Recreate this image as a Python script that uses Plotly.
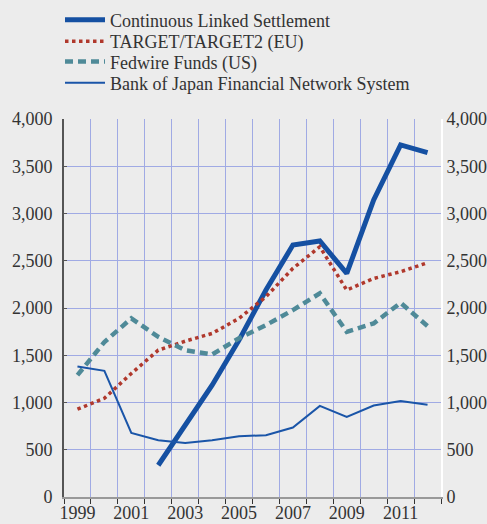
import plotly.graph_objects as go

years = list(range(1999, 2013))
cls_vals = [None, None, None, 336, 760, 1183, 1660, 2190, 2666, 2709, 2366, 3143, 3726, 3644]
target_vals = [929, 1045, 1307, 1554, 1649, 1731, 1890, 2120, 2419, 2648, 2190, 2313, 2384, 2479]
fedwire_vals = [1289, 1640, 1890, 1695, 1554, 1508, 1680, 1819, 1978, 2155, 1748, 1837, 2055, 1808]
boj_vals = [1382, 1335, 678, 600, 572, 600, 643, 654, 735, 964, 847, 968, 1017, 975]
series_names = ["Continuous Linked Settlement", "TARGET/TARGET2 (EU)",
                "Fedwire Funds (US)", "Bank of Japan Financial Network System"]
year_labels = ["1999", "2001", "2003", "2005", "2007", "2009", "2011"]
y_ticks = [0, 500, 1000, 1500, 2000, 2500, 3000, 3500, 4000]

FF = "Liberation Serif"
FS = 18
bg = "#ECECEC"
grid = "#A0AAE4"
txt = "#333333"

styles = [
    dict(color="#1550A2", width=5),
    dict(color="#B0382C", width=3.5, dash="dot"),
    dict(color="#4F8A98", width=4.5, dash="8px,5px"),
    dict(color="#1A55A8", width=2),
]
values = [cls_vals, target_vals, fedwire_vals, boj_vals]
legend_ids = ["legend", "legend2", "legend3", "legend4"]

fig = go.Figure()
for name, vals, st, lg in zip(series_names, values, styles, legend_ids):
    fig.add_trace(go.Scatter(x=years, y=vals, mode="lines", name=name, line=st, legend=lg))

# invisible traces to activate the right axis and the year-label axis
fig.add_trace(go.Scatter(x=years, y=boj_vals, yaxis="y2", mode="lines", showlegend=False,
                         line=dict(color="rgba(0,0,0,0)"), hoverinfo="skip"))
fig.add_trace(go.Scatter(x=years, y=boj_vals, xaxis="x2", mode="lines", showlegend=False,
                         line=dict(color="rgba(0,0,0,0)"), hoverinfo="skip"))

boundaries = [y - 0.5 for y in years] + [years[-1] + 0.5]
tfont = dict(family=FF, size=FS, color=txt)

row_y = [1.262, 1.205, 1.151, 1.095]
legend_common = dict(x=-0.0106, xanchor="left", yanchor="middle", bgcolor="rgba(0,0,0,0)",
                     font=tfont, itemwidth=40)
legend_layout = {lg: dict(legend_common, y=ry) for lg, ry in zip(legend_ids, row_y)}

fig.update_layout(
    width=487, height=524,
    paper_bgcolor=bg, plot_bgcolor=bg,
    margin=dict(l=64, r=46, t=119, b=27, autoexpand=False),
    font=dict(family=FF, size=FS, color=txt),
    showlegend=True,
    **legend_layout,
    xaxis=dict(range=[1998.5, 2012.5], tickmode="array", tickvals=boundaries,
               ticktext=[""] * len(boundaries), showgrid=True, gridcolor=grid, gridwidth=1,
               ticks="outside", ticklen=5, tickcolor="#333333", showline=True,
               linecolor="#999999", linewidth=2, zeroline=False, automargin=False),
    xaxis2=dict(range=[1998.5, 2012.5], overlaying="x", side="bottom", tickmode="array",
                tickvals=[int(v) for v in year_labels], ticktext=year_labels, showgrid=False,
                ticks="", showline=False, zeroline=False, tickfont=tfont,
                ticklabelstandoff=3, automargin=False),
    yaxis=dict(range=[0, 4000], tickmode="array", tickvals=y_ticks,
               ticktext=[f"{v:,}" for v in y_ticks], showgrid=True, gridcolor=grid, gridwidth=1,
               showline=True, linecolor="#555555", linewidth=2, zeroline=False,
               ticks="inside", ticklen=3, tickcolor="#555555", tickfont=tfont,
               ticklabelstandoff=6, automargin=False),
    yaxis2=dict(range=[0, 4000], overlaying="y", side="right", tickmode="array", tickvals=y_ticks,
                ticktext=[f"{v:,}" for v in y_ticks], showgrid=False, showline=True,
                linecolor="#FFFFFF", linewidth=2, zeroline=False, ticks="", tickfont=tfont,
                automargin=False),
)

fig.write_html("out.html", post_script="document.body.style.margin='0';",
               config={"displayModeBar": False})
